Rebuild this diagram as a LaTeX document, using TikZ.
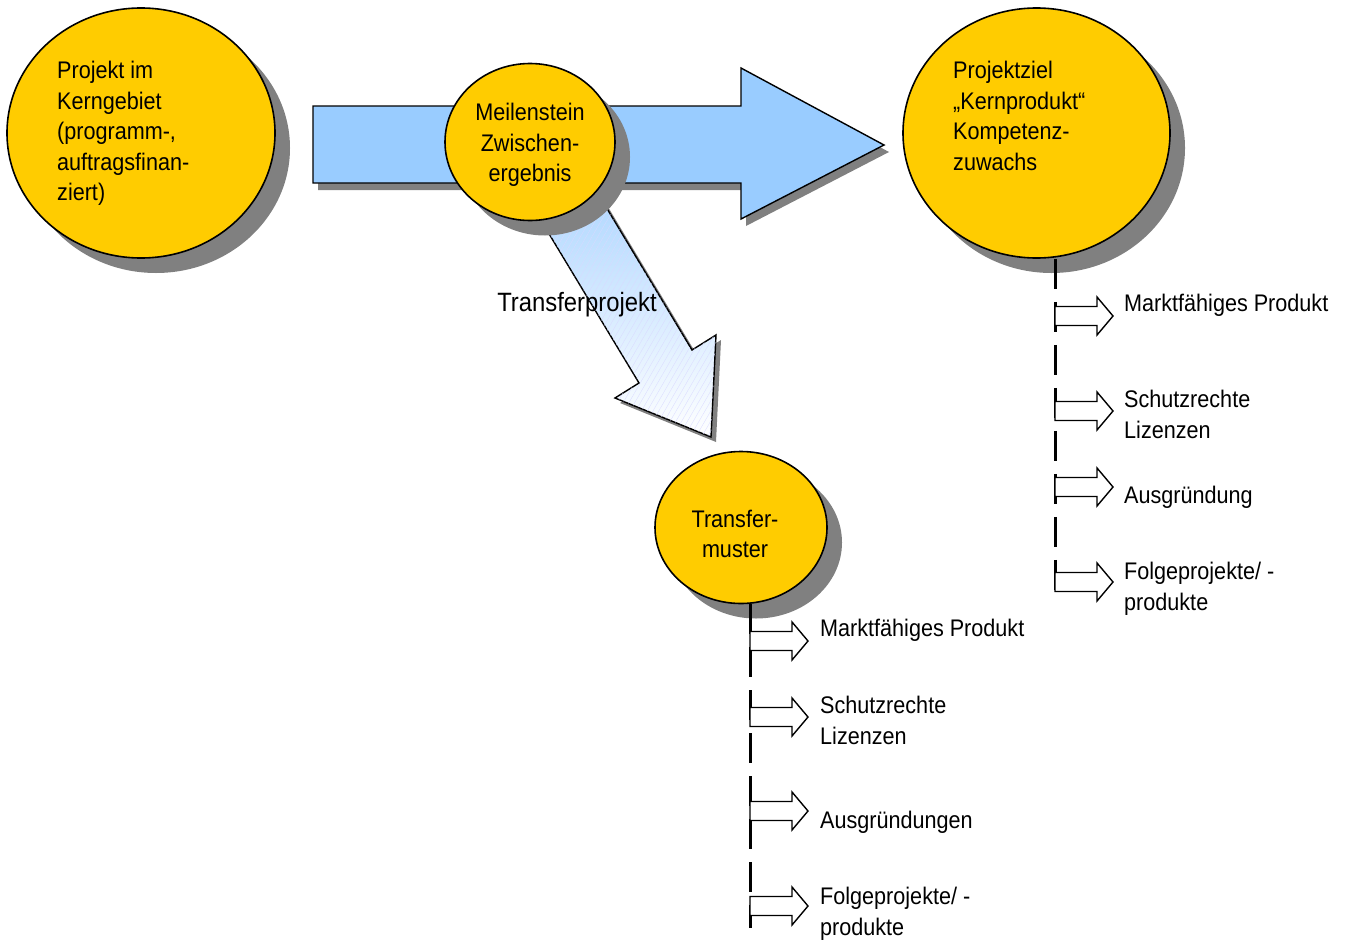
\documentclass[tikz,border=0pt]{standalone}
\usepackage{fontspec}
\setmainfont[FakeStretch=0.9]{Liberation Sans}
\usetikzlibrary{shapes.geometric,shadows,patterns.meta}

\definecolor{goldfill}{HTML}{FFCC00}
\definecolor{skyblue}{HTML}{99CCFF}
\definecolor{shadowgray}{HTML}{808080}

\tikzset{
    ball/.style={draw, ellipse, line width=1.6pt, fill=goldfill, inner sep=0pt,
        drop shadow={shadow xshift=15pt, shadow yshift=-15pt, fill=shadowgray, opacity=1}},
    txt/.style={inner sep=0pt, align=left, font=\fontsize{24}{30.5}\selectfont},
    spine/.style={line width=3pt, dash pattern=on 30pt off 13pt},
    hollow/.style={draw, line width=1.4pt, fill=white},
}

\begin{document}
\begin{tikzpicture}[x=1pt, y=-1pt]
        \useasboundingbox (0,0) rectangle (1348,942);

        % main arrow
        \draw[line width=1.4pt, fill=skyblue,
            drop shadow={shadow xshift=5pt, shadow yshift=-7pt, fill=shadowgray, opacity=1}]
            (313,106) -- (741,106) -- (741,68) -- (884,145) -- (741,219) -- (741,183) -- (313,183) -- cycle;

        % transfer arrow
        \draw[line width=1.4pt, top color=skyblue!85, bottom color=white,
            drop shadow={shadow xshift=5pt, shadow yshift=-5pt, fill=shadowgray, opacity=1},
            postaction={pattern={Lines[angle=60, distance=5pt, line width=0.3pt]}, pattern color=blue!15}]
            (528,199) -- (639,383) -- (615,398) -- (711,437) -- (716,335) -- (692,350) -- (582,167) -- cycle;
        \node[txt, font=\fontsize{26.5}{30}\selectfont] (tp) at (577,305) {Transferprojekt};

        \node[ball, minimum width=268pt, minimum height=250pt] (kern) at (141,133) {};
        \node[ball, minimum width=170pt, minimum height=157pt] (meil) at (530,142) {};
        \node[ball, minimum width=267pt, minimum height=250pt] (ziel) at (1036.5,133) {};
        \node[ball, minimum width=172pt, minimum height=152pt] (muster) at (741,527.5) {};

        \node[txt, anchor=north west] (kerntext) at (57,61)
            {Projekt im\\Kerngebiet\\(programm-,\\auftragsfinan-\\ziert)};
        \node[txt, align=center] (meiltext) at (530,145) {Meilenstein\\Zwischen-\\ergebnis};
        \node[txt, anchor=north west] (zieltext) at (953,61)
            {Projektziel\\„Kernprodukt“\\Kompetenz-\\zuwachs};
        \node[txt, align=center] (mustertext) at (735,534) {Transfer-\\muster};

        % results of the core project
        \coordinate (zielend) at (1055,602);
        \draw[spine] (ziel.south -| zielend) -- (zielend);
        \foreach \y/\name in {316/r1, 411/r2, 487/r3, 582/r4} {
            \coordinate (\name) at (1055,\y);
            \draw[hollow] (\name) ++(0,-9.5) -- ++(42,0) -- ++(0,-9.5) -- ++(16,19)
                -- ++(-16,19) -- ++(0,-9.5) -- ++(-42,0) -- cycle;
        }
        \node[txt, anchor=north west] (rt1) at (1124,294) {Marktfähiges Produkt};
        \node[txt, anchor=north west] (rt2) at (1124,390) {Schutzrechte\\Lizenzen};
        \node[txt, anchor=north west] (rt3) at (1124,486) {Ausgründung};
        \node[txt, anchor=north west] (rt4) at (1124,562) {Folgeprojekte/ -\\produkte};

        % results of the transfer
        \coordinate (musterend) at (750,928);
        \draw[spine] (muster.south -| musterend) -- (musterend);
        \foreach \y/\name in {641/b1, 717/b2, 811/b3, 906/b4} {
            \coordinate (\name) at (750,\y);
            \draw[hollow] (\name) ++(0,-9.5) -- ++(42,0) -- ++(0,-9.5) -- ++(16,19)
                -- ++(-16,19) -- ++(0,-9.5) -- ++(-42,0) -- cycle;
        }
        \node[txt, anchor=north west] (bt1) at (820,619) {Marktfähiges Produkt};
        \node[txt, anchor=north west] (bt2) at (820,696) {Schutzrechte\\Lizenzen};
        \node[txt, anchor=north west] (bt3) at (820,811) {Ausgründungen};
        \node[txt, anchor=north west] (bt4) at (820,887) {Folgeprojekte/ -\\produkte};
\end{tikzpicture}
\end{document}
